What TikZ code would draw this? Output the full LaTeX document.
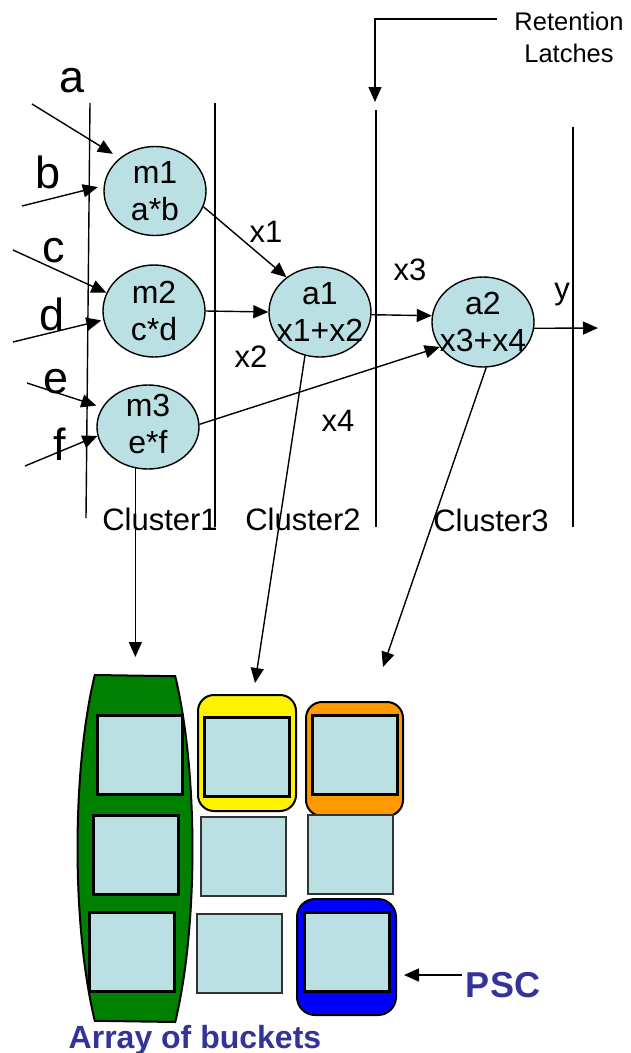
\documentclass[tikz,border=0pt]{standalone}
\usepackage{fontspec}
\setmainfont{Liberation Sans}
\usetikzlibrary{arrows.meta,shapes.geometric,calc}
\definecolor{cellfill}{RGB}{187,224,227}
\definecolor{labelblue}{RGB}{51,51,153}
\definecolor{grn}{RGB}{0,128,0}
\definecolor{orng}{RGB}{255,153,0}
\begin{document}
\begin{tikzpicture}[x=1pt,y=-1pt,
  conn/.style={line width=1.4pt,-{Triangle[length=15pt,width=13pt]}},
  wire/.style={line width=1.4pt},
  op/.style={ellipse,draw,line width=1.4pt,fill=cellfill,inner sep=0pt,minimum width=102pt,minimum height=89pt},
  optext/.style={align=center,font=\fontsize{32}{37}\selectfont,inner sep=0pt},
  inlabel/.style={font=\fontsize{45}{54}\selectfont,anchor=base,inner sep=0pt},
  wlabel/.style={font=\fontsize{31}{37}\selectfont,anchor=base,inner sep=0pt},
  bucket/.style={draw,line width=3pt,fill=cellfill,inner sep=0pt,minimum width=85pt,minimum height=79pt},
  loosebucket/.style={bucket,line width=2pt,draw=black!80},
  grp/.style={draw,line width=2pt,inner sep=0pt,rounded corners=16pt},
  bluelabel/.style={text=labelblue,anchor=base,inner sep=0pt},
]
\fill[white] (0,0) rectangle (631,1053);
\useasboundingbox (0,0) rectangle (631,1053);

% latch boundaries between clusters
\coordinate (L1t) at (90,103);  \coordinate (L1b) at (86,518);
\coordinate (L2t) at (215,103); \coordinate (L2b) at (215,527);
\coordinate (L3t) at (376,110); \coordinate (L3b) at (376,527);
\coordinate (L4t) at (573,127); \coordinate (L4b) at (573,527);
\draw[wire] (L1t) -- (L1b);
\draw[wire] (L2t) -- (L2b);
\draw[wire] (L3t) -- (L3b);
\draw[wire] (L4t) -- (L4b);

% retention latch callout
\node[font=\fontsize{25.5}{32}\selectfont,align=center,inner sep=0pt] (ret) at (569,37) {Retention\\Latches};
\coordinate (rl0) at (497,19);
\coordinate (rl1) at (375,19);
\coordinate (rltip) at (375,102);
\draw[conn] (rl0) -- (rl1) -- (rltip);

% operation nodes
\node[op] (m1) at (155,191) {};
\node[op,minimum height=92pt] (m2) at (154,311) {};
\node[op,minimum height=84pt] (m3) at (148,427) {};
\node[op,minimum height=90pt] (a1) at (320,312) {};
\node[op,minimum height=90pt] (a2) at (483,322) {};
\node[optext] (m1t) at (m1) {m1\\a*b};
\node[optext] (m2t) at (m2) {m2\\c*d};
\node[optext] (m3t) at ($(m3)+(0,-3)$) {m3\\e*f};
\node[optext] (a1t) at (a1) {a1\\x1+x2};
\node[optext] (a2t) at (a2) {a2\\x3+x4};

% primary inputs
\node[inlabel] (la) at (72,92) {a};
\node[inlabel] (lb) at (48,188) {b};
\node[inlabel] (lc) at (54,262) {c};
\node[inlabel] (ld) at (52,330) {d};
\node[inlabel] (le) at (56,393) {e};
\node[inlabel] (lf) at (60,460) {f};
\coordinate (sa) at (32,104);
\coordinate (sb) at (22,206);
\coordinate (sc) at (13,250);
\coordinate (sd) at (13,342);
\coordinate (se) at (27,383);
\coordinate (sf) at (25,466);
\draw[conn,shorten >=8pt] (sa) -- (m1.137);
\draw[conn,shorten >=6pt] (sb) -- (m1.174);
\draw[conn] (sc) -- (m2.159);
\draw[conn,shorten >=2pt] (sd) -- (m2.190);
\draw[conn,shorten >=6pt] (se) -- (m3.157);
\draw[conn] (sf) -- (m3.190);

% dataflow between operations
\draw[conn] (m1.-18) -- (a1.134);
\draw[conn] (m2.east) -- (a1.west);
\draw[conn] (a1.-3) -- (a2.173);
\draw[conn] (m3.3) -- (a2.210);
\coordinate (yout) at (598,328);
\draw[conn] (a2.-7) -- (yout);

\node[wlabel] (x1) at (266,242) {x1};
\node[wlabel] (x2) at (251,367) {x2};
\node[wlabel] (x3) at (410,280) {x3};
\node[wlabel] (x4) at (338,431) {x4};
\node[wlabel] (yl) at (562,299) {y};

\node[wlabel] (c1) at (160,530) {Cluster1};
\node[wlabel] (c2) at (303,530) {Cluster2};
\node[wlabel] (c3) at (491,531) {Cluster3};

% bucket array
\draw[line width=2pt,fill=grn] (94.8,675)
  arc[start angle=225.6,end angle=134.4,x radius=57.5,y radius=242]
  -- (175.2,1022)
  arc[start angle=45.6,end angle=-45.6,x radius=57.5,y radius=242] -- cycle;
\node[grp,fill=yellow,minimum width=98pt,minimum height=116pt] (yel) at (247,753) {};
\node[grp,fill=orng,minimum width=97pt,minimum height=114pt] (org) at (354.5,759) {};
\node[grp,fill=blue,rounded corners=18pt,minimum width=99pt,minimum height=116pt] (blu) at (346.5,957) {};

\node[bucket] (g1) at (139.5,754.5) {};
\node[bucket] (g2) at (136,854.5) {};
\node[bucket] (g3) at (132,951.5) {};
\node[bucket] (y1) at (247,756.5) {};
\node[loosebucket] (y2) at (243.5,856) {};
\node[loosebucket] (y3) at (239.5,953.5) {};
\node[bucket] (o1) at (354.5,754.5) {};
\node[loosebucket] (o2) at (350.5,854.5) {};
\node[bucket] (b1) at (346.5,951.5) {};

% mapping of operations onto buckets
\coordinate (tg) at (135,657);
\coordinate (ty) at (255,683);
\coordinate (to) at (383,667);
\draw[conn] (m3.-107) -- (m3.-107 |- tg);
\draw[conn] (a1.-109) -- (ty);
\draw[conn] (a2.-86) -- (to);

\node[bluelabel,font=\bfseries\fontsize{36}{43}\selectfont] (psc) at (503,997) {PSC};
\coordinate (pscfrom) at (462,975);
\draw[conn,shorten >=7pt] (pscfrom) -- (blu.east |- pscfrom);

\node[bluelabel,font=\bfseries\fontsize{32}{38}\selectfont] (arr) at (195,1048) {Array of buckets};
\end{tikzpicture}
\end{document}
